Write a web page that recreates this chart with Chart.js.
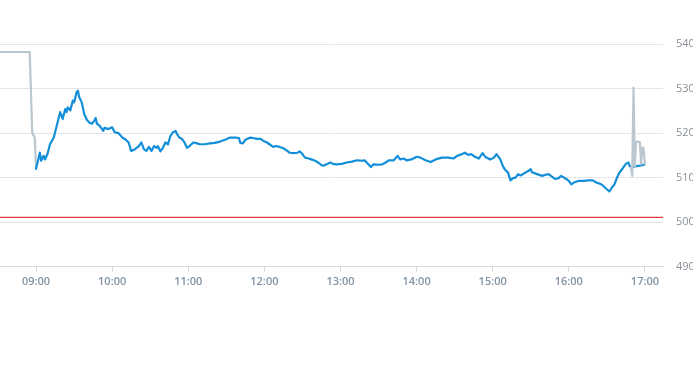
<!DOCTYPE html>
<html>
<head>
<meta charset="utf-8">
<script src="https://cdn.jsdelivr.net/npm/chart.js@4.4.1/dist/chart.umd.min.js"></script>
<style>
  html, body { margin: 0; padding: 0; background: #ffffff; }
  #wrap { position: relative; width: 693px; height: 365px; }
</style>
</head>
<body>
<div id="wrap"><canvas id="c" width="693" height="365"></canvas></div>
<script>
// ---- data ----
const preTimes  = ["08:30","08:55","08:57","08:58","08:59","09:00"];
const preValues = [538.2, 538.2, 520.2, 519.5, 519.0, 512.0];

const mainTimes = ["09:00","09:03","09:04","09:06","09:07","09:09","09:11","09:14","09:16","09:19","09:21","09:23","09:24","09:25","09:27","09:29","09:30","09:32","09:33","09:34","09:36","09:38","09:40","09:42","09:44","09:46","09:47","09:48","09:50","09:53","09:54","09:57",
"10:00","10:02","10:05","10:08","10:10","10:13","10:15","10:18","10:21","10:23","10:25","10:27","10:29","10:31","10:33","10:35","10:36","10:38","10:40","10:42","10:44","10:46","10:48","10:50","10:51","10:53","10:55","10:57","10:59",
"11:01","11:04","11:07","11:09","11:13","11:17","11:21","11:25","11:29","11:33","11:37","11:40","11:41","11:43","11:45","11:49","11:51","11:54","11:57","11:59",
"12:02","12:04","12:07","12:09","12:12","12:15","12:18","12:20","12:23","12:26","12:28","12:30","12:32","12:35","12:37","12:40","12:43","12:45","12:47","12:49","12:52","12:54","12:57",
"13:01","13:05","13:09","13:13","13:17","13:19","13:22","13:24","13:26","13:30","13:33","13:35","13:38","13:42","13:45","13:47","13:50","13:52","13:56",
"14:00","14:03","14:07","14:11","14:15","14:20","14:25","14:29","14:32","14:36","14:38","14:41","14:43","14:46","14:49","14:52","14:54","14:58",
"15:01","15:03","15:06","15:08","15:10","15:12","15:14","15:16","15:18","15:20","15:22","15:26","15:28","15:30","15:31","15:35","15:39","15:41","15:44","15:47","15:49","15:52","15:54","15:58",
"16:00","16:02","16:04","16:08","16:12","16:15","16:19","16:21","16:25","16:27","16:30","16:32","16:34","16:36","16:38","16:40","16:41","16:43","16:45","16:47","16:48","16:50","16:52","16:56","17:00"];
const mainValues = [512.0,515.6,513.8,514.9,514.1,515.3,517.5,519.0,521.3,524.7,523.2,525.4,524.7,525.8,525.1,527.3,526.9,529.2,529.5,528.1,526.9,524.3,523.0,522.4,522.1,522.8,523.4,522.1,521.7,520.5,521.2,520.9,
521.3,520.2,520.0,519.0,518.7,517.9,516.0,516.4,517.1,517.9,516.4,516.0,516.9,516.0,517.1,516.7,517.1,515.9,516.7,517.9,517.5,519.4,520.2,520.5,519.9,519.0,518.7,517.9,516.7,
517.1,517.9,517.7,517.5,517.5,517.7,517.8,518.1,518.5,519.0,519.0,518.9,517.8,517.7,518.5,519.0,518.9,518.7,518.7,518.3,
517.9,517.5,516.9,517.1,516.9,516.6,516.0,515.6,515.5,515.6,515.9,515.3,514.5,514.3,514.1,513.8,513.3,512.8,512.7,513.0,513.4,513.1,513.0,
513.1,513.4,513.6,513.9,513.8,513.9,513.0,512.4,513.0,512.9,513.0,513.3,513.9,513.9,514.9,514.1,514.3,513.9,514.1,
514.7,514.5,513.9,513.5,514.1,514.5,514.5,514.3,514.9,515.3,515.6,515.1,515.3,514.7,514.3,515.5,514.7,514.1,
514.5,515.3,514.1,512.6,511.7,511.2,509.4,509.9,510.0,510.8,510.5,511.2,511.5,511.9,511.2,510.8,510.4,510.6,510.8,510.2,509.7,509.9,510.4,509.7,
509.3,508.5,508.9,509.3,509.3,509.4,509.4,509.0,508.6,508.2,507.4,506.9,507.8,508.5,510.0,511.2,511.5,512.3,513.1,513.4,512.6,512.3,512.5,512.7,513.0];

const postTimes  = ["16:49","16:50","16:51","16:52","16:53","16:56","16:57","16:58","16:59","17:00"];
const postValues = [512.3, 510.4, 530.2, 512.5, 518.1, 518.0, 513.0, 516.8, 516.5, 513.0];

const prevClose = [501.1];
const hourTicks = ["09:00","10:00","11:00","12:00","13:00","14:00","15:00","16:00","17:00"];
const yTickValues = [490, 500, 510, 520, 530, 540];
const xRange = ["08:31:35","17:14:15"];

// ---- helpers ----
function toMin(s) {
  const p = s.split(":").map(Number);
  return p[0] * 60 + p[1] + (p[2] || 0) / 60;
}
function fmt(m) {
  const h = Math.floor(m / 60), mm = Math.round(m - h * 60);
  return String(h).padStart(2, "0") + ":" + String(mm).padStart(2, "0");
}
function pts(times, vals) { return times.map((t, i) => ({ x: toMin(t), y: vals[i] })); }

const xMin = toMin(xRange[0]), xMax = toMin(xRange[1]);
const hourSet = new Set(hourTicks.map(toMin));

const fam = "'Open Sans', 'Liberation Sans', sans-serif";

new Chart(document.getElementById("c"), {
  type: "line",
  data: {
    datasets: [
      { data: [{ x: xMin, y: prevClose[0] }, { x: xMax, y: prevClose[0] }], borderColor: "#de3a3f", borderWidth: 1.2, pointRadius: 0, order: 3 },
      { data: pts(preTimes, preValues), borderColor: "#bac7cf", borderWidth: 2.2, pointRadius: 0, order: 2 },
      { data: pts(mainTimes, mainValues), borderColor: "#138fd9", borderWidth: 2.2, pointRadius: 0, order: 1 },
      { data: pts(postTimes, postValues), borderColor: "#bac7cf", borderWidth: 2.2, pointRadius: 0, order: 0 }
    ]
  },
  options: {
    responsive: false,
    animation: false,
    parsing: false,
    normalized: true,
    layout: { padding: { top: 44, left: 0, right: 0, bottom: 74 } },
    plugins: { legend: { display: false }, tooltip: { enabled: false } },
    elements: { line: { tension: 0, borderJoinStyle: "round", borderCapStyle: "round" } },
    scales: {
      x: {
        type: "linear",
        min: xMin, max: xMax,
        grid: { display: true, drawOnChartArea: false, drawTicks: true, tickLength: 5, color: "#d5dbe0" },
        border: { display: true, color: "#d5dbe0" },
        afterBuildTicks: (axis) => { axis.ticks = axis.ticks.filter(t => hourSet.has(Math.round(t.value))); },
        ticks: {
          stepSize: 60, includeBounds: false, autoSkip: false, maxRotation: 0,
          padding: 3, color: "#8193a4", font: { family: fam, size: 11, weight: "600" },
          callback: (v) => fmt(v)
        }
      },
      y: {
        position: "right",
        min: yTickValues[0], max: yTickValues[yTickValues.length - 1],
        afterBuildTicks: (axis) => { axis.ticks = yTickValues.map(v => ({ value: v })); },
        afterFit: (axis) => { axis.width = 30; },
        grid: { color: "#e3e6e9", drawTicks: false },
        border: { display: false },
        ticks: { padding: 13, color: "#8a9097", font: { family: fam, size: 11 }, callback: (v) => String(v) }
      }
    }
  }
});
</script>
</body>
</html>
